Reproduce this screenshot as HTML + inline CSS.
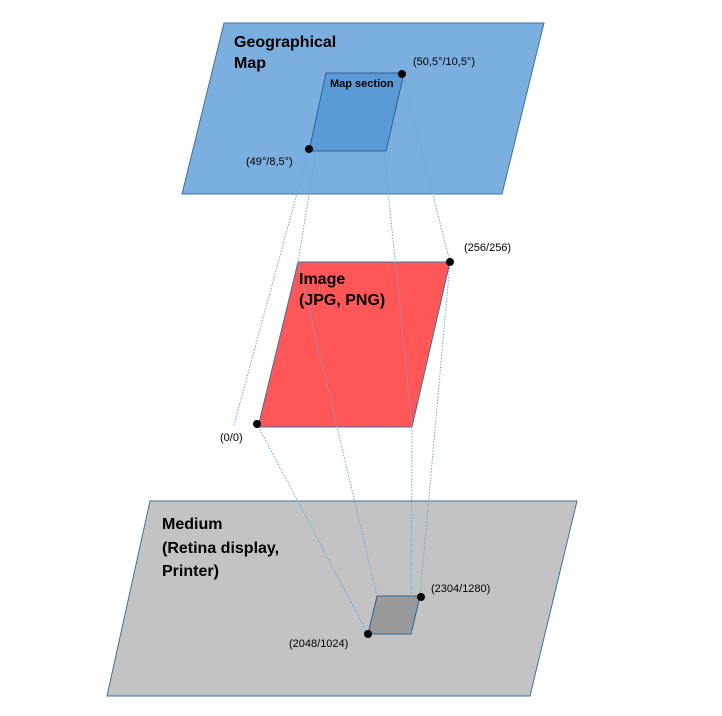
<!DOCTYPE html>
<html><head><meta charset="utf-8"><style>
html,body{margin:0;padding:0;background:#fff;}
svg{display:block;font-family:"Liberation Sans",sans-serif;}
</style></head><body>
<svg width="722" height="716" viewBox="0 0 722 716" xmlns="http://www.w3.org/2000/svg">
<polygon points="224,23 544,23 502,194 182,194" fill="#7aafdf" stroke="#41719c" stroke-width="1"/>
<polygon points="326,73 404,73 386,151 309,151" fill="#5a9ad6" stroke="#2f5f8f" stroke-width="1"/>
<polygon points="150,501 577,501 530,696 107,696" fill="#c3c3c3" stroke="#41719c" stroke-width="1"/>
<polygon points="298,262 450,262 412,427 258,427" fill="#ff5757" stroke="#41719c" stroke-width="1"/>
<polygon points="377,596 420,596 411,634 368,634" fill="#999" stroke="#2f5f8f" stroke-width="1"/>
<g stroke="#6fa3d8" stroke-width="1" stroke-dasharray="1.5,1.5" fill="none">
<line x1="309" y1="149" x2="234" y2="425"/>
<line x1="316" y1="151" x2="298" y2="262"/>
<line x1="298" y1="262" x2="377" y2="596"/>
<line x1="384" y1="151" x2="412" y2="427"/>
<line x1="412" y1="427" x2="411" y2="634"/>
<line x1="402" y1="74" x2="450" y2="262"/>
<line x1="450" y1="262" x2="420" y2="597"/>
<line x1="257" y1="424" x2="368" y2="634"/>
</g>
<g fill="#000">
<circle cx="402" cy="74" r="4"/><circle cx="309" cy="149" r="4"/>
<circle cx="450" cy="262" r="4"/><circle cx="257" cy="424" r="4"/>
<circle cx="421" cy="597" r="4"/><circle cx="368" cy="634" r="4"/>
</g>
<g font-weight="bold" font-size="16" fill="#000">
<text x="234" y="47">Geographical</text><text x="234" y="68">Map</text>
<text x="299" y="284">Image</text><text x="299" y="305">(JPG, PNG)</text>
<text x="162" y="529">Medium</text><text x="162" y="553">(Retina display,</text><text x="162" y="576">Printer)</text>
</g>
<text x="330" y="87" font-size="11" font-weight="bold">Map section</text>
<g font-size="11" fill="#000">
<text x="413" y="65">(50,5°/10,5°)</text>
<text x="246" y="165">(49°/8,5°)</text>
<text x="464" y="251">(256/256)</text>
<text x="220" y="441">(0/0)</text>
<text x="431" y="592">(2304/1280)</text>
<text x="289" y="647">(2048/1024)</text>
</g>
</svg>
</body></html>
